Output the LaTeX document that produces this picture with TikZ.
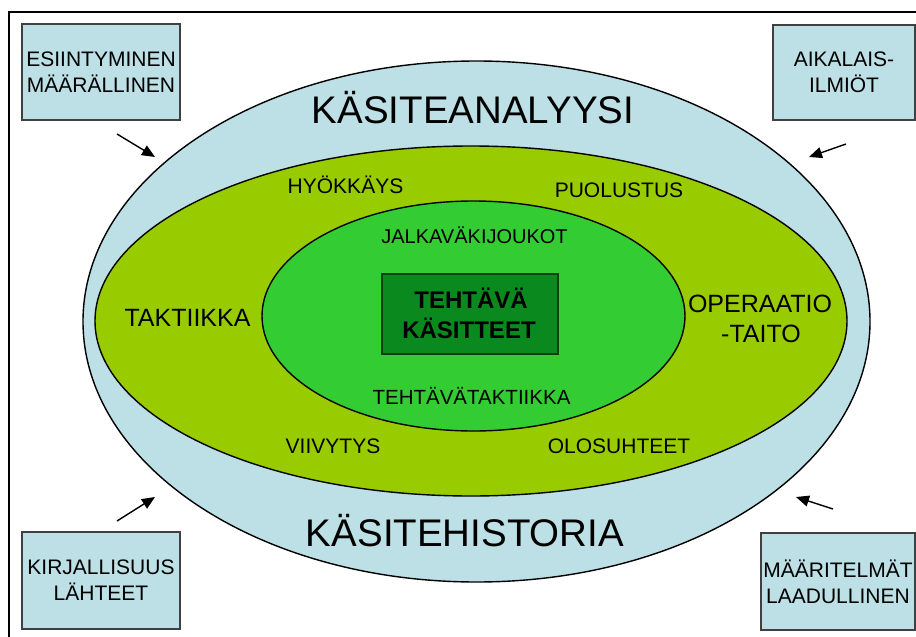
\documentclass[tikz,border=0pt]{standalone}
\usepackage{fontspec}
\setmainfont{Liberation Sans}
\usetikzlibrary{shapes.geometric,arrows.meta}
\definecolor{lblue}{HTML}{BCE0E5}
\definecolor{lgreen}{HTML}{99CC00}
\definecolor{mgreen}{HTML}{33CC33}
\definecolor{dgreen}{HTML}{0A8A1E}
\definecolor{dborder}{HTML}{0F3F12}
\begin{document}
\begin{tikzpicture}[x=1pt,y=-1pt,
  ring/.style={ellipse,draw=black,line width=1.4pt,inner sep=0pt},
  srcbox/.style={draw=black!75,line width=1.4pt,fill=lblue,inner sep=0pt,align=center,font=\fontsize{21}{26}\selectfont},
  lbl/.style={anchor=base,inner sep=0pt,font=\fontsize{21}{25}\selectfont},
  big/.style={anchor=base,inner sep=0pt,font=\fontsize{38.5}{40}\selectfont},
  mid/.style={anchor=base,inner sep=0pt,font=\fontsize{25}{30}\selectfont},
  inarrow/.style={line width=1.4pt,-{Triangle[length=13pt,width=11pt]}}]
\useasboundingbox (0,0) rectangle (916,637);
\clip (0,0) rectangle (916,637);
\fill[white] (0,0) rectangle (916,637);
\draw[line width=2pt] (9,12) rectangle (930,650);
% rings
\node[ring,fill=lblue,minimum width=787pt,minimum height=521pt] (outer) at (476.5,321.5) {};
\node[ring,fill=lgreen,minimum width=752pt,minimum height=350pt] (green) at (471,321) {};
\node[ring,fill=mgreen,minimum width=423pt,minimum height=230pt] (inner) at (473.5,316) {};
\node[draw=dborder,line width=1.2pt,fill=dgreen,minimum width=176pt,minimum height=80pt,inner sep=0pt] (core) at (470,314) {};
% texts
\node[big] (ka) at (473,123) {KÄSITEANALYYSI};
\node[big] (kh) at (465,546) {KÄSITEHISTORIA};
\node[lbl] (hy) at (345.5,193) {HYÖKKÄYS};
\node[lbl] (pu) at (619,197) {PUOLUSTUS};
\node[lbl] (vi) at (333,453) {VIIVYTYS};
\node[lbl] (ol) at (619,453) {OLOSUHTEET};
\node[lbl,font=\fontsize{20}{24}\selectfont] (ja) at (474.5,243) {JALKAVÄKIJOUKOT};
\node[lbl,font=\fontsize{20.5}{24}\selectfont] (tt) at (471.5,404) {TEHTÄVÄTAKTIIKKA};
\node[anchor=base,inner sep=0pt,font=\bfseries\fontsize{24}{28}\selectfont] (te) at (471,308) {TEHTÄVÄ};
\node[anchor=base,inner sep=0pt,font=\bfseries\fontsize{24}{28}\selectfont] (ks) at (469,338) {KÄSITTEET};
\node[mid] (ta) at (187.5,326) {TAKTIIKKA};
\node[mid] (op) at (760,312) {OPERAATIO};
\node[mid] (op2) at (761,342) {-TAITO};
% source boxes
\node[srcbox,minimum width=158pt,minimum height=96pt] (tl) at (101,72) {ESIINTYMINEN\\MÄÄRÄLLINEN};
\node[srcbox,minimum width=142pt,minimum height=95pt] (tr) at (844,72.5) {AIKALAIS-\\ILMIÖT};
\node[srcbox,minimum width=158pt,minimum height=97pt] (bl) at (101,580.5) {KIRJALLISUUS\\LÄHTEET};
\node[srcbox,minimum width=154pt,minimum height=97pt] (br) at (838,581.5) {MÄÄRITELMÄT\\LAADULLINEN};
% arrows
\coordinate (tla) at (117,134); \coordinate (tlb) at (155,157);
\coordinate (tra) at (846,144); \coordinate (trb) at (809,157);
\coordinate (bla) at (117,521); \coordinate (blb) at (155,497);
\coordinate (bra) at (833,509); \coordinate (brb) at (796,497);
\draw[inarrow] (tla) -- (tlb);
\draw[inarrow] (tra) -- (trb);
\draw[inarrow] (bla) -- (blb);
\draw[inarrow] (bra) -- (brb);
\end{tikzpicture}
\end{document}
